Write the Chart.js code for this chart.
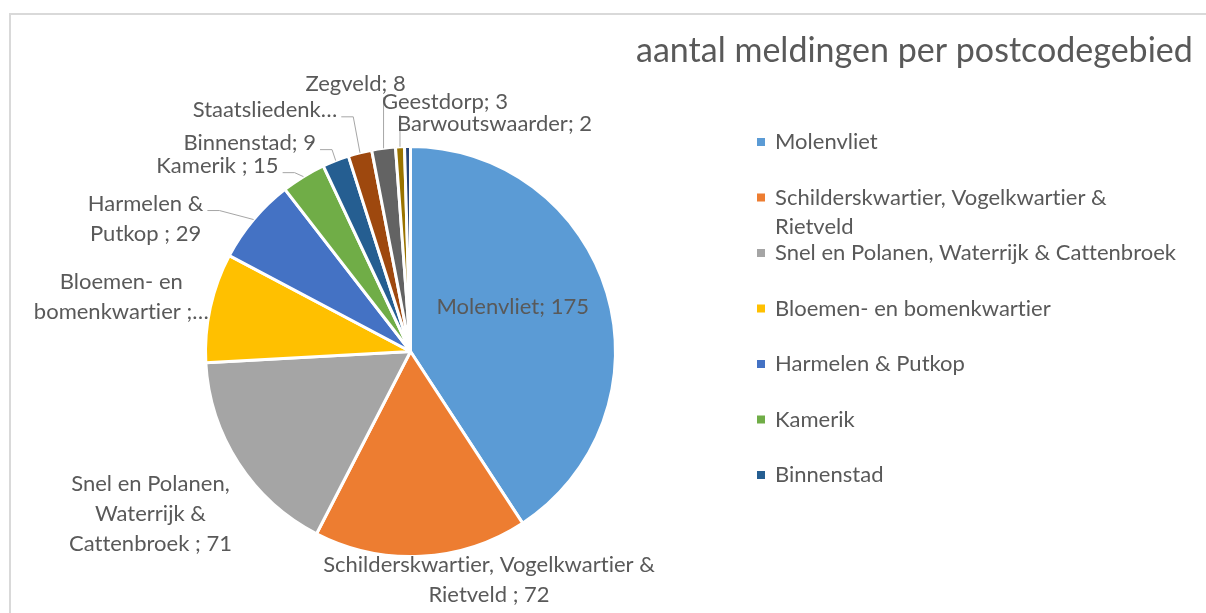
<!DOCTYPE html>
<html>
<head>
<meta charset="utf-8">
<script src="https://cdn.jsdelivr.net/npm/chart.js@4.4.0/dist/chart.umd.min.js"></script>
<style>
    html, body { margin: 0; padding: 0; background: #fff; }
    #wrap { width: 1206px; height: 613px; }
</style>
</head>
<body>
<div id="wrap"><canvas id="chartMeldingen" width="1206" height="613"></canvas></div>
<script>
// gegevens
const gebieden = [
    'Molenvliet',
    'Schilderskwartier, Vogelkwartier & Rietveld ',
    'Snel en Polanen, Waterrijk & Cattenbroek ',
    'Bloemen- en bomenkwartier ',
    'Harmelen & Putkop ',
    'Kamerik ',
    'Binnenstad',
    'Staatsliedenkwartier',
    'Zegveld',
    'Geestdorp',
    'Barwoutswaarder'
];
const meldingen = [175, 72, 71, 37, 29, 15, 9, 8, 8, 3, 2];
const kleuren = ['#5B9BD5', '#ED7D31', '#A5A5A5', '#FFC000', '#4472C4', '#70AD47',
                 '#255E91', '#9E480E', '#636363', '#997300', '#264478'];
const titel = 'aantal meldingen per postcodegebied';
const legendaAantal = 7; // de legenda laat maar 7 gebieden zien

// opmaak van de labels (geen data): verschuiving t.o.v. de rand, wrap-breedte, max regels, lijntje
const labelShift = [[4, -15], [68, 24], [-88, 51], [-89, -11], [-108, -1], [-86, -11],
                    [-86, -18], [-95, -43], [-28, -64], [45, -45], [87, -23]];
const labelWidth = [400, 345, 172, 178, 140, 200, 200, 150, 200, 200, 250];
const labelMaxLines = [1, 2, 3, 2, 2, 1, 1, 1, 1, 1, 1];
const labelLeader = ['none', 'none', 'none', 'none', 'side', 'side', 'side', 'side', 'down', 'down', 'none'];

const FONT = 'Lato, "Open Sans", sans-serif';
const TEKST = '#595959';

function wrapText(ctx, text, maxW, maxLines) {
    const words = text.trim().split(/\s+/);
    let lines = [];
    let cur = '';
    words.forEach(w => {
        const test = cur ? cur + ' ' + w : w;
        if (!cur || ctx.measureText(test).width <= maxW) cur = test;
        else { lines.push(cur); cur = w; }
    });
    if (cur) lines.push(cur);
    if (lines.length > maxLines) {
        const rest = lines.slice(maxLines - 1).join(' ');
        lines = lines.slice(0, maxLines - 1);
        lines.push(rest);
    }
    let last = lines[lines.length - 1];
    if (ctx.measureText(last).width > maxW) {
        while (last.length > 1 && ctx.measureText(last.trim() + '…').width > maxW) last = last.slice(0, -1);
        lines[lines.length - 1] = last.trim() + '…';
    }
    return lines;
}

// achtergrond + kader
const kaderPlugin = {
    id: 'kader',
    beforeDraw(chart) {
        const c = chart.ctx;
        c.save();
        c.fillStyle = '#fff';
        c.fillRect(0, 0, chart.width, chart.height);
        c.strokeStyle = '#d9d9d9';
        c.lineWidth = 2;
        c.beginPath();
        c.moveTo(10, chart.height);
        c.lineTo(10, 14);
        c.lineTo(chart.width, 14);
        c.stroke();
        c.restore();
    }
};

// data labels met lijntjes
const labelPlugin = {
    id: 'gegevenslabels',
    afterDatasetsDraw(chart) {
        const c = chart.ctx;
        const meta = chart.getDatasetMeta(0);
        c.save();
        c.font = '22px ' + FONT;
        c.letterSpacing = '0.01px'; // geen ligaturen
        c.textAlign = 'center';
        c.textBaseline = 'middle';
        const lh = 30;
        meta.data.forEach((arc, i) => {
            const p = arc.getProps(['x', 'y', 'startAngle', 'endAngle', 'outerRadius'], true);
            const mid = (p.startAngle + p.endAngle) / 2;
            const rr = i === 0 ? p.outerRadius * 0.5 : p.outerRadius;
            const ex = p.x + Math.cos(mid) * rr;
            const ey = p.y + Math.sin(mid) * rr;
            const cx = ex + labelShift[i][0];
            const cy = ey + labelShift[i][1];
            const lines = wrapText(c, gebieden[i] + '; ' + meldingen[i], labelWidth[i], labelMaxLines[i]);
            const top = cy - (lines.length - 1) * lh / 2;
            let breedte = 0;
            lines.forEach(l => { breedte = Math.max(breedte, c.measureText(l).width); });

            // lijntje
            c.strokeStyle = '#a6a6a6';
            c.lineWidth = 1;
            if (labelLeader[i] === 'side') {
                const endX = cx + breedte / 2 + 4;
                const endY = top + 7;
                c.beginPath();
                c.moveTo(ex, ey);
                c.lineTo(endX + 12, endY);
                c.lineTo(endX, endY);
                c.stroke();
            } else if (labelLeader[i] === 'down') {
                const bottom = top + (lines.length - 1) * lh + 13;
                c.beginPath();
                c.moveTo(ex, ey);
                c.lineTo(ex, bottom);
                c.stroke();
            }

            c.fillStyle = TEKST;
            lines.forEach((l, j) => c.fillText(l, cx, top + j * lh));
        });
        c.restore();
    },
    afterDraw(chart) {
        const c = chart.ctx;
        c.save();
        c.letterSpacing = '0.01px';
        // titel
        c.fillStyle = TEKST;
        c.font = '34px ' + FONT;
        c.textAlign = 'left';
        c.textBaseline = 'alphabetic';
        c.fillText(titel, 636, 62);

        // legenda
        c.font = '22px ' + FONT;
        c.textBaseline = 'middle';
        for (let i = 0; i < legendaAantal; i++) {
            const y = 142 + i * 55.5;
            c.fillStyle = kleuren[i];
            c.fillRect(757, y - 4, 8, 8);
            c.fillStyle = TEKST;
            const lines = wrapText(c, gebieden[i], 412, 3);
            lines.forEach((l, j) => c.fillText(l, 775, y + j * 29));
        }
        c.restore();
    }
};

const ctx = document.getElementById('chartMeldingen').getContext('2d');

const dataMeldingen = {
    labels: gebieden,
    datasets: [{
        label: 'aantal meldingen',
        data: meldingen,
        backgroundColor: kleuren,
        borderColor: '#ffffff',
        borderWidth: 3,
        hoverBorderWidth: 3,
        offset: 0,
        hoverOffset: 0
    }]
};

const configMeldingen = {
    type: 'pie',
    data: dataMeldingen,
    options: {
        responsive: false,
        animation: false,
        events: [],
        layout: {
            padding: { left: 204, right: 589, top: 145, bottom: 55 }
        },
        plugins: {
            legend: { display: false },
            title: { display: false },
            tooltip: { enabled: false }
        }
    },
    plugins: [kaderPlugin, labelPlugin]
};

const chartMeldingen = new Chart(ctx, configMeldingen);
</script>
</body>
</html>
